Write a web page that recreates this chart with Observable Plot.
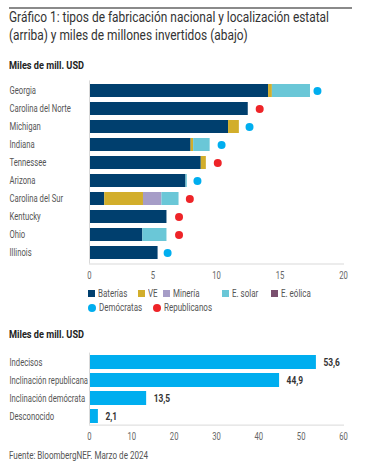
<!DOCTYPE html>
<html>
<head>
<meta charset="utf-8">
<script src="https://cdn.jsdelivr.net/npm/d3@7"></script>
<script src="https://cdn.jsdelivr.net/npm/@observablehq/plot@0.6"></script>
<style>
  html, body { margin: 0; padding: 0; background: #fff; }
  body { width: 367px; height: 468px; position: relative; overflow: hidden;
         font-family: "Roboto", sans-serif; }
  .abs { position: absolute; }
  .nar { transform-origin: 0 0; white-space: nowrap; }
  #rule { left: 9px; top: 7px; width: 343px; height: 2px; background: #8a8a8a; }
  #title { left: 9px; top: 9px; font-size: 14.5px; line-height: 18px; color: #333; }
  .unit { left: 9px; font-size: 10.5px; font-weight: bold; color: #222; }
  #legend { left: 88px; top: 287px; font-size: 10.5px; color: #555; width: 270px; }
  .lrow { position: relative; height: 14px; }
  .li { position: absolute; top: 0; white-space: nowrap; }
  .lt { display: inline-block; transform-origin: 0 50%; }
  .sw { display: inline-block; width: 7px; height: 7px; margin-right: 3px; vertical-align: 0px; }
  .dot { display: inline-block; width: 8px; height: 8px; border-radius: 50%; margin-right: 3px; vertical-align: -1px; }
  #source { left: 9px; top: 449px; font-size: 10.5px; color: #555; }
</style>
</head>
<body>
<div id="rule" class="abs"></div>
<div id="title" class="abs nar">Gráfico 1: tipos de fabricación nacional y localización estatal<br>(arriba) y miles de millones invertidos (abajo)</div>
<div id="unit1" class="abs unit nar" style="top:59px">Miles de mill. USD</div>
<div id="topChart" class="abs" style="left:0; top:70px"></div>
<div id="legend" class="abs"></div>
<div id="unit2" class="abs unit nar" style="top:328px">Miles de mill. USD</div>
<div id="bottomChart" class="abs" style="left:0; top:340px"></div>
<div id="source" class="abs nar">Fuente: BloombergNEF. Marzo de 2024</div>
<script>
// ---- Data (top chart) ----
const states = ["Georgia", "Carolina del Norte", "Michigan", "Indiana", "Tennessee", "Arizona", "Carolina del Sur", "Kentucky", "Ohio", "Illinois"];
const baterias = [14.1, 12.5, 10.95, 8.0, 8.8, 7.6, 1.2, 6.1, 4.2, 5.4];
const ve       = [0.3, 0, 0.85, 0.2, 0.4, 0, 3.05, 0, 0, 0];
const mineria  = [0, 0, 0, 0, 0, 0, 1.45, 0, 0, 0];
const solar    = [3.0, 0, 0, 1.3, 0, 0.1, 1.35, 0, 1.9, 0];
const eolica   = [0, 0, 0, 0, 0, 0, 0, 0, 0, 0];
const party    = ["Demócratas", "Republicanos", "Demócratas", "Demócratas", "Republicanos", "Demócratas", "Republicanos", "Republicanos", "Republicanos", "Demócratas"];
const partyX   = [17.95, 13.4, 12.6, 10.4, 10.1, 8.5, 7.9, 7.05, 7.05, 6.15];
const types    = ["Baterías", "VE", "Minería", "E. solar", "E. eólica"];
const xTicksTop = [0, 5, 10, 15, 20];

// ---- Data (bottom chart) ----
const leanings = ["Indecisos", "Inclinación republicana", "Inclinación demócrata", "Desconocido"];
const invested = [53.6, 44.9, 13.5, 2.1];
const xTicksBottom = [0, 10, 20, 30, 40, 50, 60];

const typeColors = ["#003f6e", "#d2ae2b", "#a69dc7", "#6ac7d7", "#7a4f6e"];
const partyColors = ["#00aeef", "#ee2428"];
const parties = ["Demócratas", "Republicanos"];

// ---- condensed-face emulation: horizontal scale factors fitted to reference text widths ----
const ctx = document.createElement("canvas").getContext("2d");
function fitK(text, font, target) { ctx.font = font; return target / ctx.measureText(text).width; }
const kTitle  = fitK("Gráfico 1: tipos de fabricación nacional y localización estatal", "14.5px Roboto", 320);
const kUnit   = fitK("Miles de mill. USD", "bold 10.5px Roboto", 75);
const kSource = fitK("Fuente: BloombergNEF. Marzo de 2024", "10.5px Roboto", 139);
const kLegend = fitK("Republicanos", "10.5px Roboto", 48);
const kSvg    = (fitK("Inclinación republicana", "10.5px Roboto", 74) + fitK("Carolina del Norte", "10.5px Roboto", 65)) / 2;

document.getElementById("title").style.transform = `scaleX(${kTitle})`;
document.getElementById("unit1").style.transform = `scaleX(${kUnit})`;
document.getElementById("unit2").style.transform = `scaleX(${kUnit})`;
document.getElementById("source").style.transform = `scaleX(${kSource})`;

function condense(svg, k) {
  svg.querySelectorAll("text").forEach(t => {
    const tr = t.getAttribute("transform");
    if (tr) {
      t.setAttribute("transform", tr + ` scale(${k},1)`);
    } else {
      const x = t.getAttribute("x") || 0, y = t.getAttribute("y") || 0;
      t.removeAttribute("x"); t.removeAttribute("y");
      t.setAttribute("transform", `translate(${parseFloat(x)},${parseFloat(y)}) scale(${k},1)`);
    }
  });
  return svg;
}

const series = [baterias, ve, mineria, solar, eolica];
const stacked = [];
states.forEach((s, i) => {
  types.forEach((t, k) => { stacked.push({state: s, type: t, value: series[k][i]}); });
});
const dots = states.map((s, i) => ({state: s, party: party[i], x: partyX[i]}));

const svgStyle = {fontFamily: "Roboto, sans-serif", fontSize: "10.5px", color: "#555", background: "transparent"};

const topPlot = Plot.plot({
  width: 367, height: 215,
  marginLeft: 89, marginRight: 24, marginTop: 10.4, marginBottom: 21.5,
  style: svgStyle,
  x: {domain: [0, 20], ticks: xTicksTop, label: null},
  y: {domain: states, paddingInner: 0.27, paddingOuter: 0.1, label: null},
  color: {domain: [...types, ...parties], range: [...typeColors, ...partyColors]},
  marks: [
    Plot.frame({anchor: "bottom", stroke: "#d9d9d9"}),
    Plot.barX(stacked, Plot.stackX({x: "value", y: "state", fill: "type", order: null})),
    Plot.ruleX([0], {stroke: "#d9d9d9"}),
    Plot.dot(dots, {x: "x", y: "state", fill: "party", r: 4, stroke: null}),
    Plot.axisX({ticks: xTicksTop, tickSize: 0, tickPadding: 8, tickFormat: d => String(d), fill: "#666"}),
    Plot.axisY({ticks: [], tickSize: 0}),
    Plot.text(states, {y: d => d, text: d => d, frameAnchor: "left", textAnchor: "start", dx: -80, fill: "#555"})
  ]
});
document.getElementById("topChart").appendChild(condense(topPlot, kSvg));

// legend
const legend = document.getElementById("legend");
const row1 = document.createElement("div"); row1.className = "lrow";
const row2 = document.createElement("div"); row2.className = "lrow";
const typeLeft = [0, 50, 75, 134, 183];
types.forEach((t, k) => {
  const it = document.createElement("span"); it.className = "li"; it.style.left = typeLeft[k] + "px";
  it.innerHTML = `<span class="sw" style="background:${typeColors[k]}"></span><span class="lt" style="transform:scaleX(${kLegend})">${t}</span>`;
  row1.appendChild(it);
});
const partyLeft = [0, 65];
parties.forEach((p, k) => {
  const it = document.createElement("span"); it.className = "li"; it.style.left = partyLeft[k] + "px";
  it.innerHTML = `<span class="dot" style="background:${partyColors[k]}"></span><span class="lt" style="transform:scaleX(${kLegend})">${p}</span>`;
  row2.appendChild(it);
});
legend.appendChild(row1); legend.appendChild(row2);

// bottom chart
const bdata = leanings.map((l, i) => ({cat: l, value: invested[i]}));
const bottomPlot = Plot.plot({
  width: 367, height: 105,
  marginLeft: 89, marginRight: 24, marginTop: 12.6, marginBottom: 20.4,
  style: svgStyle,
  x: {domain: [0, 60], ticks: xTicksBottom, label: null},
  y: {domain: leanings, paddingInner: 0.25, paddingOuter: 0.05, label: null},
  marks: [
    Plot.frame({anchor: "bottom", stroke: "#d9d9d9"}),
    Plot.barX(bdata, {x: "value", y: "cat", fill: "#00aeef"}),
    Plot.ruleX([0], {stroke: "#d9d9d9"}),
    Plot.text(bdata, {x: "value", y: "cat", text: d => d.value.toFixed(1).replace(".", ","), textAnchor: "start", dx: 7, fontWeight: "bold", fill: "#333", fontSize: 11.5}),
    Plot.axisX({ticks: xTicksBottom, tickSize: 0, tickPadding: 7, tickFormat: d => String(d), fill: "#666"}),
    Plot.axisY({ticks: [], tickSize: 0}),
    Plot.text(leanings, {y: d => d, text: d => d, frameAnchor: "left", textAnchor: "start", dx: -80, fill: "#555"})
  ]
});
document.getElementById("bottomChart").appendChild(condense(bottomPlot, kSvg));
</script>
</body>
</html>
